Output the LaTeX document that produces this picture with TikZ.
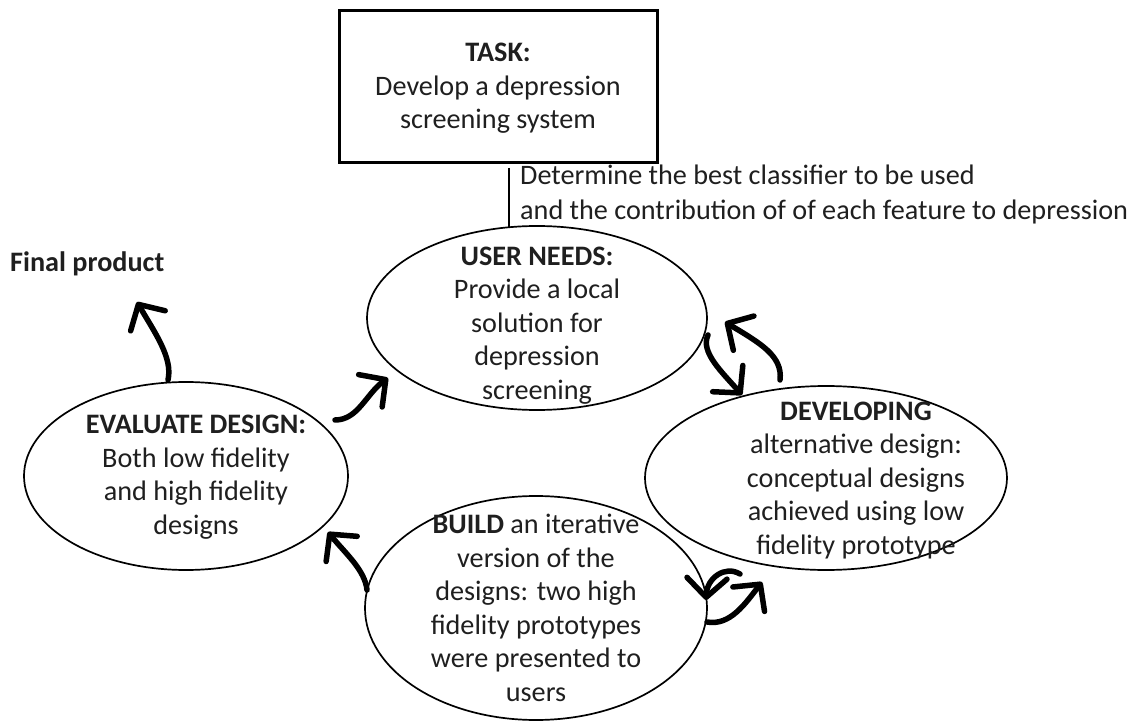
\documentclass[tikz,border=0pt]{standalone}
\usepackage{fontspec}
\setmainfont{Carlito}
\usetikzlibrary{shapes.geometric,arrows.meta}
\begin{document}
\begin{tikzpicture}[x=1pt,y=-1pt,
  txt/.style={anchor=base,align=center,inner sep=0pt,font=\fontsize{28.2}{33.5}\selectfont,text=black!88},
  oval/.style={draw,ellipse,line width=1.7pt,inner sep=0pt},
  hand/.style={line width=5.5pt,line cap=round,line join=round,
     -{Straight Barb[length=19pt,width=40pt,line cap=round,line join=round]}}
]
\useasboundingbox (0,0) rectangle (1133,722);
% task box
\node[draw,line width=2.2pt,minimum width=318pt,minimum height=152pt,inner sep=0pt] (task) at (498.5,86.5) {};
\node[txt] (tasktxt) at (498,129) {\textbf{TASK:}\\Develop a depression\\screening system};
% ellipses
\node[oval,minimum width=340pt,minimum height=184pt] (un) at (537,318) {};
\node[oval,minimum width=324pt,minimum height=188pt] (ev) at (186,476) {};
\node[oval,minimum width=362pt,minimum height=184pt] (dev) at (826,478) {};
\node[oval,minimum width=342pt,minimum height=224pt] (bld) at (536,608) {};
% texts
\node[txt] (untxt) at (537,399) {\textbf{USER NEEDS:}\\Provide a local\\solution for\\depression\\screening};
\node[txt] (evtxt) at (196,534) {\textbf{EVALUATE DESIGN:}\\Both low fidelity\\and high fidelity\\designs};
\node[txt] (devtxt) at (856,554) {\textbf{DEVELOPING}\\alternative design:\\conceptual designs\\achieved using low\\fidelity prototype};
\node[txt] (bldtxt) at (536,701) {\textbf{BUILD} an iterative\\version of the\\designs: two high\\fidelity prototypes\\were presented to\\users};
\node[txt,anchor=base west] (final) at (10,272) {\textbf{Final product}};
\node[txt,anchor=base west,align=left,font=\fontsize{28.2}{35}\selectfont] (note) at (520,220) {Determine the best classifier to be used\\and the contribution of of each feature to depression};
% task to user needs
\coordinate (l1) at (509,168);
\coordinate (l2) at (509,227);
\draw[line width=2pt] (l1) -- (l2);
% arrows
\coordinate (a1s) at (335,420); \coordinate (a1e) at (388,378);
\draw[hand] (a1s) .. controls (358,420) and (366,394) .. (a1e);
\coordinate (a2s) at (708,335); \coordinate (a2e) at (742,395);
\draw[hand] (a2s) .. controls (700,352) and (722,372) .. (a2e);
\coordinate (a3s) at (780,380); \coordinate (a3e) at (725,322);
\draw[hand] (a3s) .. controls (783,356) and (760,343) .. (a3e);
\coordinate (a4s) at (740,574); \coordinate (a4e) at (706,600);
\draw[hand] (a4s) .. controls (725,565) and (707,578) .. (a4e);
\coordinate (a5s) at (707,622); \coordinate (a5e) at (762,582);
\draw[hand] (a5s) .. controls (730,626) and (745,604) .. (a5e);
\coordinate (a6s) at (367,590); \coordinate (a6e) at (328,532);
\draw[hand] (a6s) .. controls (365,570) and (345,553) .. (a6e);
\coordinate (a7s) at (168,380); \coordinate (a7e) at (137,302);
\draw[hand] (a7s) .. controls (173,358) and (155,333) .. (a7e);
\end{tikzpicture}
\end{document}
